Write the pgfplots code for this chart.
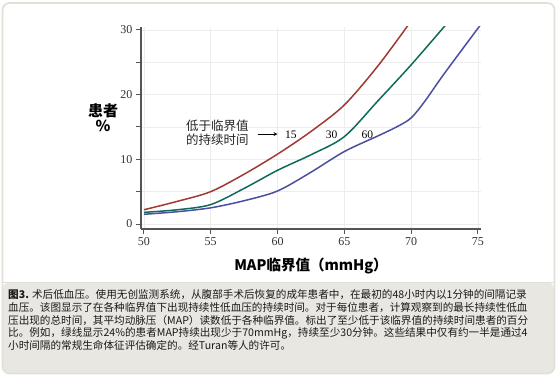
\documentclass[border=0pt]{standalone}
\usepackage{pgfplots}
\pgfplotsset{compat=1.18}
\usepackage{fontspec}
\setmainfont{Liberation Serif}
\newfontfamily\cjk{Noto Sans CJK SC}
\definecolor{cred}{HTML}{A03A33}
\definecolor{cgreen}{HTML}{0E6B5B}
\definecolor{cblue}{HTML}{4B4F9E}
\definecolor{frame}{HTML}{E2DFD7}
\definecolor{capbg}{HTML}{E9E7E1}
\definecolor{axgray}{HTML}{555555}
\begin{document}
\begin{tikzpicture}[x=1pt,y=1pt]
\path[use as bounding box] (0,0) rectangle (557,377);
% caption background and frame
\fill[capbg,rounded corners=7pt] (3,4) rectangle (554,95);
\fill[white] (3,94) rectangle (554,374);
\draw[frame,line width=1.6pt,rounded corners=7pt] (2.5,3.5) rectangle (554.5,374);
\draw[frame,line width=1pt] (3,94.5) -- (554,94.5);
\begin{axis}[
  at={(141pt,153pt)}, anchor=origin,
  x=13.36pt, y=6.47pt,
  xmin=49.78, xmax=75.22, ymin=-0.77, ymax=30.5,
  axis lines*=left,
  axis line style={axgray, line width=1.1pt},
  tick align=outside,
  major tick length=5pt,
  tick style={axgray, line width=0.9pt},
  xtick={50,55,...,75},
  ytick={0,5,...,30},
  yticklabels={0,,10,,20,,30},
  grid=major,
  major grid style={gray!14, line width=0.6pt},
  ticklabel style={font=\fontsize{12}{12}\selectfont, text=black!80},
  /pgf/number format/assume math mode=true,
  clip=true,
]
\addplot[cred, line width=1.5pt, smooth] coordinates {
 (50,2.2) (52.5,3.5) (55,5.0) (57.5,7.7) (60,10.8) (62.5,14.3) (65,18.4) (67.5,24.4) (69.8,30.8)};
\addplot[cgreen, line width=1.5pt, smooth] coordinates {
 (50,1.8) (52.5,2.2) (55,3.0) (57.5,5.5) (60,8.3) (62.5,10.7) (65,13.5) (67.5,19.0) (70,24.6) (72.6,30.8)};
\addplot[cblue, line width=1.5pt, smooth] coordinates {
 (50,1.5) (52.5,1.9) (55,2.5) (57.5,3.6) (60,5.1) (62.5,8.0) (65,11.2) (67.5,13.6) (69,15.1) (70,16.4) (71,18.9) (72.5,23.3) (75.2,30.8)};
\node[font=\fontsize{11.5}{12}\selectfont] at (axis cs:60.99,13.86) {15};
\node[font=\fontsize{11.5}{12}\selectfont] at (axis cs:64.05,13.86) {30};
\node[font=\fontsize{11.5}{12}\selectfont] at (axis cs:66.73,13.86) {60};
\draw[-stealth, line width=0.8pt] (axis cs:58.5,13.9) -- (axis cs:60.0,13.9);
\node[anchor=west, align=left, inner sep=0pt, font=\cjk\fontsize{12.5}{14.3}\selectfont, text=black!85] at (axis cs:53.14,14.1) {低于临界值\\的持续时间};
\end{axis}
% axis titles
\node[font=\cjk\bfseries\fontsize{15}{16}\selectfont, align=center] at (103,259) {患者\\[-1pt]\%};
\node[font=\cjk\bfseries\fontsize{14.5}{16}\selectfont] at (311,111) {MAP临界值（mmHg）};
% caption
\node[anchor=north west, align=left, inner sep=0pt, font=\cjk\fontsize{10.6}{12.7}\selectfont, text=black!90] at (8,87.5)
{{\bfseries 图3.} 术后低血压。使用无创监测系统，从腹部手术后恢复的成年患者中，在最初的48小时内以1分钟的间隔记录\\
血压。该图显示了在各种临界值下出现持续性低血压的持续时间。对于每位患者，计算观察到的最长持续性低血\\
压出现的总时间，其平均动脉压（MAP）读数低于各种临界值。标出了至少低于该临界值的持续时间患者的百分\\
比。例如，绿线显示24\%的患者MAP持续出现少于70mmHg，持续至少30分钟。这些结果中仅有约一半是通过4\\
小时间隔的常规生命体征评估确定的。经Turan等人的许可。};
\end{tikzpicture}
\end{document}
